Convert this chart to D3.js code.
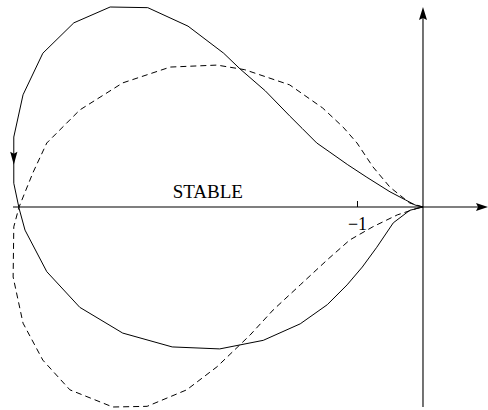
<!DOCTYPE html>
<html>
<head>
<meta charset="utf-8">
<script src="https://cdn.jsdelivr.net/npm/d3@7"></script>
<style>
  html, body { margin: 0; padding: 0; background: #fff; }
  svg { display: block; }
  text { font-family: "Liberation Serif", "DejaVu Serif", serif; fill: #000; }
</style>
</head>
<body>
<svg id="chart" width="488" height="410"></svg>
<script>
// Real axis extent and tick
const xExtent = [-6.212, 0.985];
const yExtent = [-3.03, 3.03];
const xTicks = [-1];
const regionLabel = "STABLE";

// Closed locus, solid: [re, im]
const solidRe = [0, -0.12, -0.27, -0.50, -0.85, -1.14, -1.41, -1.61, -1.83, -2.02, -2.39, -2.77, -3.02, -3.56, -4.17, -4.74, -5.29, -5.76, -6.06, -6.20, -6.20, -6.12, -6.03, -5.70, -5.20, -4.55, -3.80, -3.08, -2.42, -1.86, -1.45, -1.15, -0.92, -0.70, -0.45, -0.20, 0];
const solidIm = [0, 0.03, 0.11, 0.23, 0.45, 0.64, 0.83, 0.97, 1.19, 1.38, 1.76, 2.09, 2.33, 2.74, 3.02, 3.03, 2.79, 2.33, 1.70, 1.06, 0.36, -0.02, -0.35, -0.98, -1.52, -1.91, -2.12, -2.15, -2.02, -1.77, -1.48, -1.18, -0.91, -0.61, -0.24, -0.05, 0];

// Closed locus, dashed: [re, im]
const dashedRe = [0, -0.20, -0.50, -0.76, -1.00, -1.21, -1.52, -2.02, -2.70, -3.12, -3.83, -4.55, -5.20, -5.70, -5.91, -6.12, -6.20, -6.21, -6.06, -5.76, -5.35, -4.70, -4.18, -3.58, -3.12, -2.62, -2.27, -1.86, -1.45, -1.11, -0.76, -0.39, -0.09, 0];
const dashedIm = [0, 0.06, 0.30, 0.61, 0.97, 1.21, 1.50, 1.85, 2.08, 2.15, 2.12, 1.88, 1.47, 0.97, 0.52, 0, -0.30, -1.06, -1.76, -2.32, -2.77, -3.03, -3.02, -2.77, -2.42, -1.94, -1.56, -1.18, -0.80, -0.50, -0.30, -0.12, -0.02, 0];

// Direction marker on the solid locus (tip, then where it points from)
const markerTip = [-6.20, 0.64];
const markerTail = [-6.20, 0.84];

const svg = d3.select("#chart");
const x = d3.scaleLinear().domain(xExtent).range([13, 488]);
const y = d3.scaleLinear().domain(yExtent).range([407, 7]);

const solid = solidRe.map((r, i) => [r, solidIm[i]]);
const dashed = dashedRe.map((r, i) => [r, dashedIm[i]]);
const line = d3.line().x(d => x(d[0])).y(d => y(d[1]));

// Axes
const gAx = svg.append("g").attr("stroke", "#000").attr("stroke-width", 1.1);
gAx.append("line")
  .attr("x1", x(xExtent[0])).attr("x2", x(xExtent[1]) - 8)
  .attr("y1", y(0)).attr("y2", y(0));
gAx.append("line")
  .attr("x1", x(0)).attr("x2", x(0))
  .attr("y1", y(yExtent[0])).attr("y2", y(yExtent[1]) + 8);

// Arrow heads (slightly notched, filled)
function arrow(tipX, tipY, dx, dy, len, half) {
  const bx = tipX - dx * len, by = tipY - dy * len;
  const px = -dy * half, py = dx * half;
  return `M${tipX},${tipY}L${bx + px},${by + py}L${bx + dx * 2},${by + dy * 2}L${bx - px},${by - py}Z`;
}
svg.append("path").attr("d", arrow(x(xExtent[1]), y(0), 1, 0, 12, 4)).attr("fill", "#000");
svg.append("path").attr("d", arrow(x(0), y(yExtent[1]), 0, -1, 13, 4)).attr("fill", "#000");

// Tick at -1 (upward), label below the axis
const xAxis = d3.axisBottom(x).tickValues(xTicks).tickSizeInner(-6).tickSizeOuter(0).tickPadding(10);
const gx = svg.append("g").attr("transform", `translate(0,${y(0)})`).call(xAxis);
gx.select(".domain").remove();
gx.selectAll(".tick line").attr("stroke", "#000").attr("stroke-width", 1);
gx.selectAll(".tick text")
  .attr("font-family", "Liberation Serif, DejaVu Serif, serif")
  .attr("font-size", 18).attr("fill", "#000");

// Loci
svg.append("path").datum(solid).attr("d", line)
  .attr("fill", "none").attr("stroke", "#000").attr("stroke-width", 1);
svg.append("path").datum(dashed).attr("d", line)
  .attr("fill", "none").attr("stroke", "#000").attr("stroke-width", 1)
  .attr("stroke-dasharray", "6,4");

// Direction arrow on solid locus
{
  const tx = x(markerTip[0]), ty = y(markerTip[1]);
  const sx = x(markerTail[0]), sy = y(markerTail[1]);
  const L = Math.hypot(tx - sx, ty - sy);
  svg.append("path").attr("d", arrow(tx, ty, (tx - sx) / L, (ty - sy) / L, 13, 3.6)).attr("fill", "#000");
}

// Region label
svg.append("text")
  .attr("x", x(-3.26)).attr("y", y(0) - 9)
  .attr("text-anchor", "middle").attr("font-size", 19)
  .text(regionLabel);
</script>
</body>
</html>
